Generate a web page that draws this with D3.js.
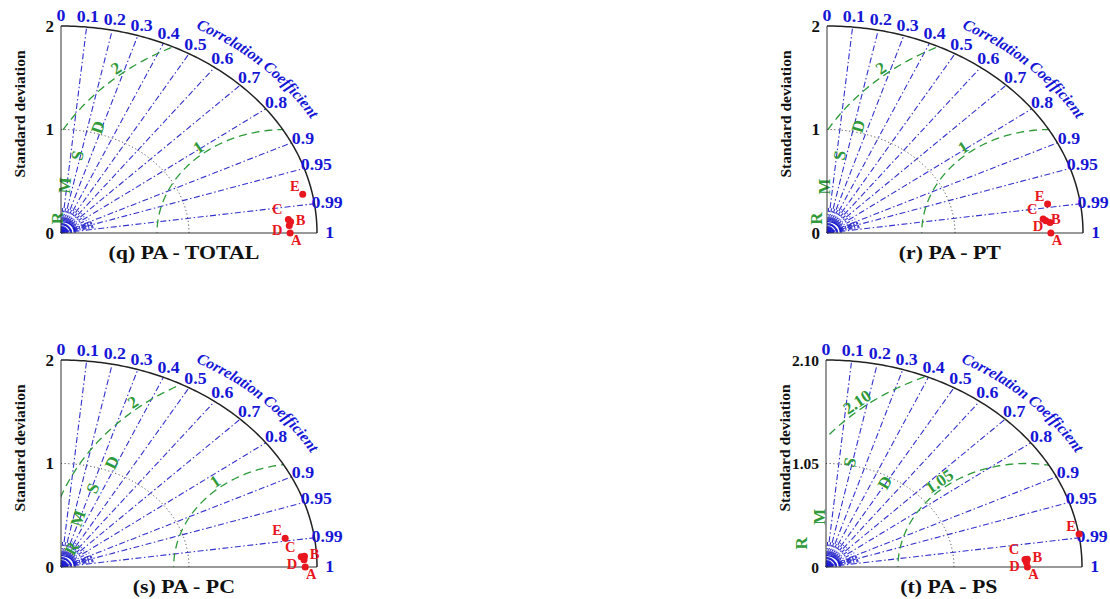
<!DOCTYPE html>
<html>
<head>
<meta charset="utf-8">
<script src="https://cdn.jsdelivr.net/npm/d3@7"></script>
<style>
body { margin: 0; background: #fff; }
svg { display: block; font-family: "Liberation Serif", "Times New Roman", serif; }
</style>
</head>
<body>
<svg id="chart"></svg>
<script>
// ---- data ----
var panelTitles = ["(q) PA - TOTAL", "(r) PA - PT", "(s) PA - PC", "(t) PA - PS"];
var sdMax = [2, 2, 2, 2.1];
var sdTickValues = [[0, 1, 2], [0, 1, 2], [0, 1, 2], [0, 1.05, 2.1]];
var sdTickLabels = [["0", "1", "2"], ["0", "1", "2"], ["0", "1", "2"], ["0", "1.05", "2.10"]];
var refSd = [1, 1, 1, 1.05];
var rmsCenter = [1.75, 1.74, 1.88, 1.64];
var rmsRadii = [[1, 2], [1, 2], [1, 2], [1.05, 2.1]];
var rmsLabels = [["1", "2"], ["1", "2"], ["1", "2"], ["1.05", "2.10"]];
var corrTicks = [0, 0.1, 0.2, 0.3, 0.4, 0.5, 0.6, 0.7, 0.8, 0.9, 0.95, 0.99, 1];
var corrTickLabels = ["0", "0.1", "0.2", "0.3", "0.4", "0.5", "0.6", "0.7", "0.8", "0.9", "0.95", "0.99", "1"];
var minorCorr = [0.05, 0.15, 0.25, 0.35, 0.45, 0.55, 0.65, 0.75, 0.85, 0.91, 0.92, 0.93, 0.94, 0.96, 0.97, 0.98];
var modelNames = ["A", "B", "C", "D", "E"];
var modelSd = [
    [1.79, 1.797, 1.781, 1.785, 1.925],
    [1.749, 1.714, 1.694, 1.745, 1.746],
    [1.908, 1.905, 1.879, 1.90, 1.773],
    [1.652, 1.653, 1.634, 1.645, 2.103]
];
var modelCorr = [
    [1.0, 0.9982, 0.9973, 0.9992, 0.981],
    [1.0, 0.9976, 0.9968, 0.9983, 0.987],
    [1.0, 0.9985, 0.9986, 0.9993, 0.9877],
    [1.0, 0.9989, 0.9989, 0.9996, 0.9872]
];
var rmsdLetters = ["R", "M", "S", "D"];

// ---- layout ----
var width = 1110, height = 599;
var panelOrigins = [[61, 233], [827, 233], [61, 567], [826, 567]];
var radiusX = 256, radiusY = 207;
// where the R M S D letters sit, in sd units
var rmsdLetterPos = [
    [[-0.03, 0.145], [0.03, 0.46], [0.13, 0.75], [0.29, 1.02]],
    [[-0.08, 0.14], [-0.016, 0.45], [0.10, 0.75], [0.245, 1.03]],
    [[0.087, 0.18], [0.134, 0.47], [0.25, 0.76], [0.40, 1.01]],
    [[-0.2, 0.24], [-0.05, 0.51], [0.197, 1.06], [0.484, 0.855]]
];
var labelOffset = {A: [6, 7], B: [10, -2], C: [-11, -10], D: [-12, 4], E: [-8, -8]};
var tickFont = ["17px", "17px", "17px", "15.5px"];

var blue = "#1616d6", rayBlue = "#3232cc", green = "#2f9a3a", red = "#e8161e";

var svg = d3.select("#chart").attr("width", width).attr("height", height);

function drawPanel(i) {
    var ox = panelOrigins[i][0], oy = panelOrigins[i][1];
    var max = sdMax[i];
    var x = d3.scaleLinear().domain([0, max]).range([ox, ox + radiusX]);
    var y = d3.scaleLinear().domain([0, max]).range([oy, oy - radiusY]);
    var g = svg.append("g");
    var line = d3.line();
    var deg = Math.PI / 180;

    function polar(r, a) { return [x(r * Math.cos(a)), y(r * Math.sin(a))]; }
    function arcPts(r, a0, a1) {
        var pts = [];
        var n = 120;
        for (var k = 0; k <= n; k++) pts.push(polar(r, a0 + (a1 - a0) * k / n));
        return pts;
    }

    // clip to the quarter disc
    var clipPts = [[ox, oy]].concat(arcPts(max, 0, Math.PI / 2));
    svg.append("clipPath").attr("id", "clip" + i)
        .append("path").attr("d", line(clipPts) + "Z");

    // correlation rays
    corrTicks.filter(function(c) { return c > 0 && c < 1; }).forEach(function(c) {
        var a = Math.acos(c);
        g.append("path")
            .attr("d", line([polar(0, a), polar(max, a)]))
            .attr("fill", "none")
            .attr("stroke", rayBlue)
            .attr("stroke-width", 1.1)
            .attr("stroke-dasharray", "6,2.5,1.5,2.5");
    });

    // short rays near the origin
    minorCorr.forEach(function(c) {
        var a = Math.acos(c);
        g.append("path")
            .attr("d", line([polar(max * 0.015, a), polar(max * 0.13, a)]))
            .attr("fill", "none")
            .attr("stroke", rayBlue)
            .attr("stroke-width", 1.1)
            .attr("stroke-dasharray", "4,2,1,2");
    });
    [0.012, 0.025, 0.04, 0.055].forEach(function(f, k) {
        g.append("path")
            .attr("d", line(arcPts(max * f, 0, Math.PI / 2)))
            .attr("fill", "none")
            .attr("stroke", blue)
            .attr("stroke-width", k == 0 ? 3 : 1.2);
    });

    // RMSD circles
    var gc = g.append("g").attr("clip-path", "url(#clip" + i + ")");
    rmsRadii[i].forEach(function(R, k) {
        var pts = [];
        for (var t = 0; t <= 180; t += 1) {
            pts.push([x(rmsCenter[i] + R * Math.cos(t * deg)), y(R * Math.sin(t * deg))]);
        }
        gc.append("path")
            .attr("d", line(pts))
            .attr("fill", "none")
            .attr("stroke", green)
            .attr("stroke-width", 1.3)
            .attr("stroke-dasharray", "8,5");

        // label on the circle
        var t0 = 130 * deg;
        var px = x(rmsCenter[i] + R * Math.cos(t0)), py = y(R * Math.sin(t0));
        var tx = x(rmsCenter[i] + R * Math.cos(t0 - 0.01)) - px;
        var ty = y(R * Math.sin(t0 - 0.01)) - py;
        var rot = Math.atan2(-Math.abs(ty), Math.abs(tx)) / deg;
        g.append("text")
            .attr("transform", "translate(" + px + "," + py + ") rotate(" + rot + ")")
            .attr("dy", -2)
            .attr("text-anchor", "middle")
            .style("font-size", "17px")
            .style("font-weight", "bold")
            .style("fill", green)
            .text(rmsLabels[i][k]);
    });

    // R M S D letters
    rmsdLetters.forEach(function(L, k) {
        var p = rmsdLetterPos[i][k];
        var px = x(p[0]), py = y(p[1]);
        var ang = Math.atan2(oy - py, px - ox) / deg;
        var rot = -Math.max(60, Math.min(90, ang));
        g.append("text")
            .attr("transform", "translate(" + px + "," + py + ") rotate(" + rot + ")")
            .attr("text-anchor", "middle")
            .attr("dominant-baseline", "central")
            .style("font-size", "17px")
            .style("font-weight", "bold")
            .style("fill", green)
            .text(L);
    });

    // reference sd arc (dotted)
    g.append("path")
        .attr("d", line(arcPts(refSd[i], 0, Math.PI / 2)))
        .attr("fill", "none")
        .attr("stroke", "#555")
        .attr("stroke-width", 1)
        .attr("stroke-dasharray", "1.2,2.5");

    // axes and outer arc
    g.append("path")
        .attr("d", line([[x(0), y(max)], [x(0), y(0)], [x(max), y(0)]]))
        .attr("fill", "none")
        .attr("stroke", "#333")
        .attr("stroke-width", 1);
    g.append("path")
        .attr("d", line(arcPts(max, 0, Math.PI / 2)))
        .attr("fill", "none")
        .attr("stroke", "#222")
        .attr("stroke-width", 1.5);

    // sd tick labels
    sdTickValues[i].forEach(function(v, k) {
        g.append("text")
            .attr("x", ox - 7)
            .attr("y", y(v))
            .attr("text-anchor", "end")
            .attr("dominant-baseline", "central")
            .style("font-size", tickFont[i])
            .style("font-weight", "bold")
            .style("fill", "#111")
            .text(sdTickLabels[i][k]);
    });
    g.append("text")
        .attr("transform", "translate(" + (ox - 42) + "," + (oy - 119) + ") rotate(-90)")
        .attr("text-anchor", "middle")
        .attr("dominant-baseline", "central")
        .style("font-size", "15.5px")
        .style("font-weight", "bold")
        .style("fill", "#111")
        .text("Standard deviation");

    // correlation labels
    corrTicks.forEach(function(c, k) {
        var p = polar(max * 1.05, Math.acos(c));
        g.append("text")
            .attr("transform", "translate(" + p[0] + "," + p[1] + ") scale(1.08,1)")
            .attr("text-anchor", "middle")
            .attr("dominant-baseline", "central")
            .style("font-size", "16.5px")
            .style("font-weight", "bold")
            .style("fill", blue)
            .text(corrTickLabels[k]);
    });

    // curved axis title, one glyph at a time along the arc
    var ccPath = svg.append("path")
        .attr("d", line(arcPts(max * 1.12, 62 * deg, 5 * deg)))
        .attr("fill", "none")
        .node();
    var ccText = "Correlation Coefficient";
    var pos = 0;
    ccText.split("").forEach(function(ch) {
        var t = g.append("text")
            .style("font-size", "15.5px")
            .style("font-weight", "bold")
            .style("font-style", "italic")
            .style("fill", blue)
            .attr("text-anchor", "middle")
            .text(ch);
        var w = ch == " " ? 4 : t.node().getComputedTextLength();
        var mid = pos + w / 2;
        var p0 = ccPath.getPointAtLength(mid);
        var p1 = ccPath.getPointAtLength(mid + 0.5);
        var rot = Math.atan2(p1.y - p0.y, p1.x - p0.x) / deg;
        t.attr("transform", "translate(" + p0.x + "," + p0.y + ") rotate(" + rot + ")");
        if (ch == " ") t.remove();
        pos += w;
    });

    // model points
    modelNames.forEach(function(name, k) {
        var p = polar(modelSd[i][k], Math.acos(modelCorr[i][k]));
        g.append("circle")
            .attr("cx", p[0])
            .attr("cy", p[1])
            .attr("r", 3.5)
            .style("fill", red);
        g.append("text")
            .attr("x", p[0] + labelOffset[name][0])
            .attr("y", p[1] + labelOffset[name][1])
            .attr("text-anchor", "middle")
            .attr("dominant-baseline", "central")
            .style("font-size", "14.5px")
            .style("font-weight", "bold")
            .style("fill", red)
            .text(name);
    });

    // panel title
    g.append("text")
        .attr("transform", "translate(" + (ox + radiusX * 0.48) + "," + (oy + 20) + ") scale(1.15,1)")
        .attr("text-anchor", "middle")
        .attr("dominant-baseline", "central")
        .style("font-size", "19px")
        .style("font-weight", "bold")
        .style("fill", "#111")
        .text(panelTitles[i]);
}

for (var i = 0; i < panelTitles.length; i++) drawPanel(i);
</script>
</body>
</html>
